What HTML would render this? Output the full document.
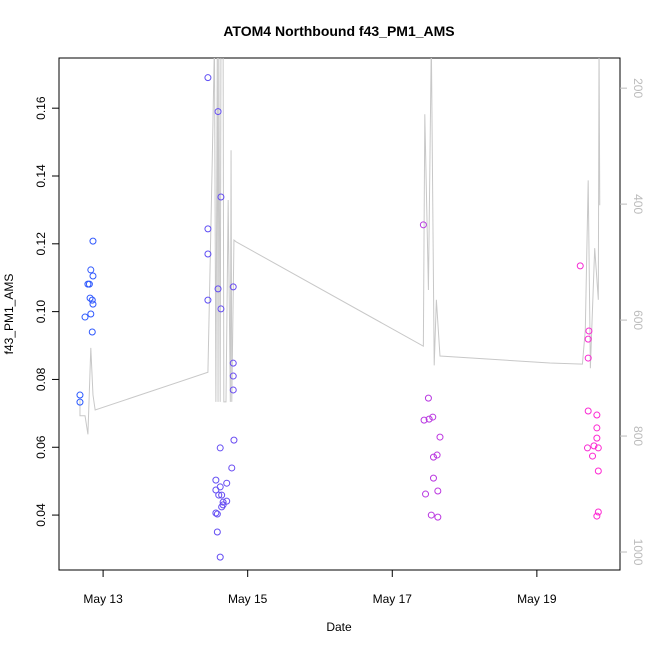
<!DOCTYPE html>
<html><head><meta charset="utf-8"><style>body{margin:0;background:#fff}svg{font-family:"Liberation Sans",sans-serif}</style></head>
<body>
<svg id="chart" width="650" height="650" xmlns="http://www.w3.org/2000/svg">
<defs><clipPath id="clip"><rect x="59" y="58" width="561" height="512"/></clipPath></defs>
<text x="339" y="36" text-anchor="middle" font-size="14" font-weight="bold">ATOM4 Northbound f43_PM1_AMS</text>
<text x="339" y="631" text-anchor="middle" font-size="12">Date</text>
<text transform="translate(13,314) rotate(-90)" text-anchor="middle" font-size="12">f43_PM1_AMS</text>
<rect x="59" y="58" width="561" height="512" fill="none" stroke="#000"/>
<g id="axes"></g>
<g id="line" clip-path="url(#clip)"></g>
<g id="pts"></g>
</svg>
<script>
const ptDays=[12.68,12.68,12.75,12.79,12.81,12.83,12.86,12.82,12.85,12.86,12.83,12.85,12.86,
14.45,14.59,14.63,14.45,14.45,14.59,14.80,14.45,14.63,14.80,14.80,14.80,14.81,14.62,14.78,14.56,14.71,14.62,14.56,14.60,14.64,14.71,14.66,14.66,14.64,14.56,14.58,14.58,14.62,
17.43,17.50,17.44,17.51,17.56,17.66,17.62,17.57,17.57,17.63,17.46,17.54,17.63,
19.60,19.72,19.71,19.71,19.71,19.83,19.83,19.83,19.79,19.70,19.85,19.77,19.85,19.85,19.83];
const ptValues=[0.0754,0.0733,0.0984,0.1081,0.1081,0.1123,0.1105,0.104,0.1034,0.1022,0.0993,0.0940,0.1208,
0.169,0.159,0.1338,0.1244,0.117,0.1067,0.1073,0.1034,0.1008,0.0848,0.0810,0.0769,0.0621,0.0598,0.0539,0.0503,0.0494,0.0483,0.0474,0.0459,0.0459,0.0441,0.0438,0.0430,0.0424,0.0406,0.0403,0.0350,0.0276,
0.1256,0.0745,0.0680,0.0683,0.0689,0.0630,0.0577,0.0571,0.0509,0.0471,0.0462,0.0400,0.0394,
0.1135,0.0943,0.0919,0.0863,0.0707,0.0695,0.0657,0.0627,0.0604,0.0598,0.0598,0.0574,0.0530,0.0409,0.0397];
const lineDays=[12.68,12.68,12.75,12.79,12.83,12.86,12.89,14.45,14.51,14.54,14.56,14.58,14.59,14.60,14.62,14.63,14.66,14.67,14.70,14.73,14.76,14.77,14.78,14.81,14.84,17.43,17.45,17.50,17.54,17.58,17.61,17.66,19.18,19.63,19.67,19.71,19.74,19.80,19.85,19.86,19.87];
const lineValues=[738,765,765,797,648,729,755,690,324,120,741,120,741,120,741,120,120,741,741,393,741,307,741,462,465,645,245,548,120,678,565,662,674,676,617,359,683,476,565,120,402];
const xTicks=[13,15,17,19];
const xTickLabels=["May 13","May 15","May 17","May 19"];
const yTicks=[0.04,0.06,0.08,0.10,0.12,0.14,0.16];
const yTickLabels=["0.04","0.06","0.08","0.10","0.12","0.14","0.16"];
const rTicks=[200,400,600,800,1000];

const X0=59,X1=620,Y0=570,Y1=58;
const xMin=12.39,xMax=20.15,yMin=0.0238,yMax=0.1748,rMin=148,rMax=1031;
const xs=d=>X0+(d-xMin)/(xMax-xMin)*(X1-X0);
const ys=v=>Y0-(v-yMin)/(yMax-yMin)*(Y0-Y1);
const rs=r=>Y1+(r-rMin)/(rMax-rMin)*(Y0-Y1);
const NS="http://www.w3.org/2000/svg";
function mk(tag,attrs,parent){const e=document.createElementNS(NS,tag);for(const k in attrs)e.setAttribute(k,attrs[k]);parent.appendChild(e);return e;}
const ax=document.getElementById('axes');
xTicks.forEach((t,i)=>{const x=xs(t);
 const l=mk('line',{x1:x,x2:x,y1:570,y2:577,stroke:'#000'},ax);
 
 
 const tx=mk('text',{x:x,y:603,'text-anchor':'middle','font-size':12},ax);tx.textContent=xTickLabels[i];
 
 });
yTicks.forEach((t,i)=>{const y=ys(t);
 const l=mk('line',{x1:52,x2:59,y1:y,y2:y,stroke:'#000'},ax);
 
 
 const tx=mk('text',{x:0,y:0,'text-anchor':'middle','font-size':12,transform:`translate(45,${y}) rotate(-90)`},ax);tx.textContent=yTickLabels[i];
 
 });
rTicks.forEach(t=>{const y=rs(t);
 const l=mk('line',{x1:620,x2:627,y1:y,y2:y,stroke:'#bbb'},ax);
 
 
 const tx=mk('text',{x:0,y:0,'text-anchor':'middle','font-size':12,fill:'#bbb',transform:`translate(634,${y}) rotate(90)`},ax);tx.textContent=String(t);
 
 });
const ln=mk('polyline',{points:lineDays.map((d,i)=>xs(d)+','+rs(lineValues[i])).join(' '),fill:'none',stroke:'#c8c8c8','stroke-width':1},document.getElementById('line'));


const pg=document.getElementById('pts');
ptDays.forEach((d,i)=>{const f=Math.max(0,Math.min(1,(d-12.6)/7.3));
 const r=Math.round(40+f*215),g=Math.round(90-f*50),b=Math.round(255-f*45);
 const c=mk('circle',{cx:xs(d),cy:ys(ptValues[i]),r:3,fill:'none',stroke:`rgb(${r},${g},${b})`,'stroke-width':1},pg);
 
 });
</script>
</body></html>
